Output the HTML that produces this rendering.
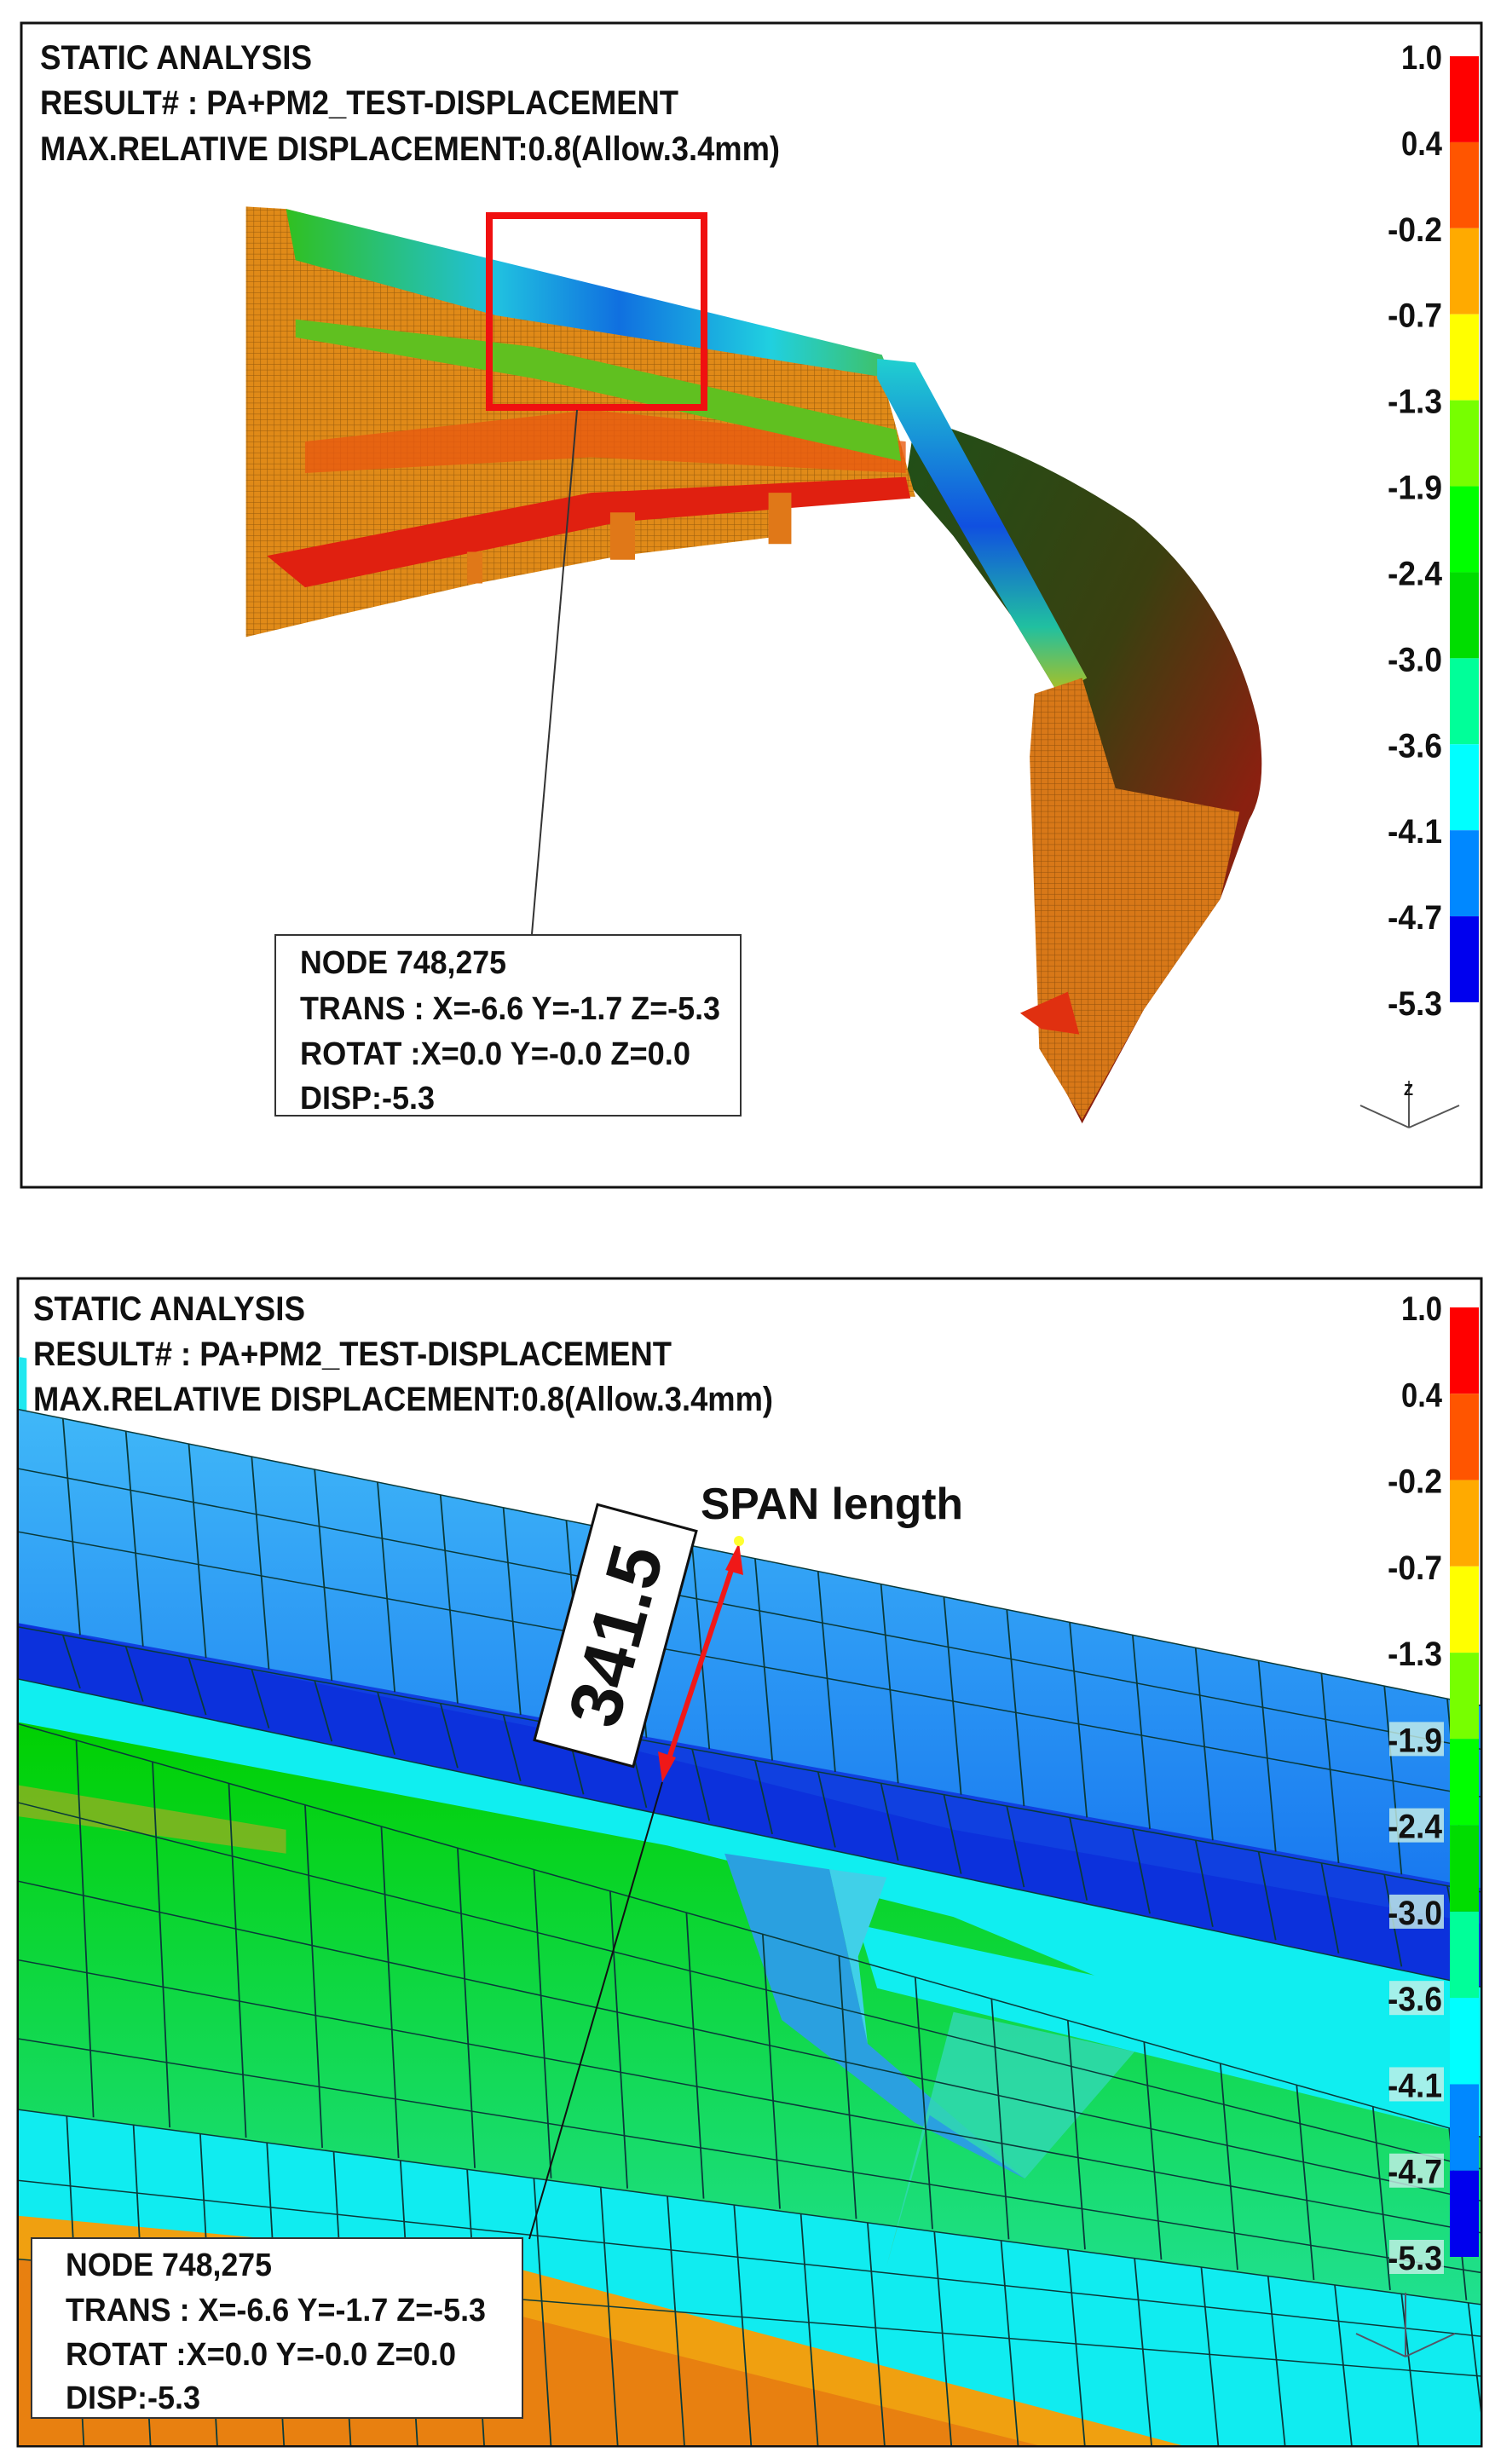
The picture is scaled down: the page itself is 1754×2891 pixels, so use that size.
<!DOCTYPE html>
<html><head><meta charset="utf-8"><style>
html,body{margin:0;padding:0;background:#fff;}
svg{display:block;}
text{font-family:"Liberation Sans",sans-serif;font-weight:bold;fill:#111;}
</style></head><body>
<svg id="root" width="1754" height="2891" viewBox="0 0 1754 2891" xmlns="http://www.w3.org/2000/svg">
<defs>
<pattern id="mesh" width="7" height="7" patternUnits="userSpaceOnUse"><path d="M0 0H7M0 0V7" stroke="#3a2000" stroke-width="1" opacity="0.45"/></pattern>
<linearGradient id="beamTop" x1="0" y1="0" x2="1" y2="0"><stop offset="0" stop-color="#30c020"/><stop offset="0.35" stop-color="#20c0e0"/><stop offset="0.55" stop-color="#1070e0"/><stop offset="0.8" stop-color="#20d0e0"/><stop offset="1" stop-color="#40c060"/></linearGradient>
<linearGradient id="armBlue" x1="0" y1="0" x2="0" y2="1"><stop offset="0" stop-color="#20d0d0"/><stop offset="0.5" stop-color="#1050e0"/><stop offset="0.8" stop-color="#20c0a0"/><stop offset="1" stop-color="#b0c020"/></linearGradient>
<linearGradient id="armDark" x1="0" y1="0" x2="1" y2="1"><stop offset="0" stop-color="#205018"/><stop offset="0.45" stop-color="#3a4010"/><stop offset="0.75" stop-color="#8a2010"/><stop offset="1" stop-color="#6a3010"/></linearGradient>
<linearGradient id="blueFace" x1="0" y1="0" x2="0" y2="1"><stop offset="0" stop-color="#40b8f8"/><stop offset="1" stop-color="#1878f0"/></linearGradient>
<linearGradient id="greenFace" x1="0" y1="0" x2="0" y2="1"><stop offset="0" stop-color="#00d000"/><stop offset="1" stop-color="#20e090"/></linearGradient>
<clipPath id="clipTop"><rect x="26" y="28" width="1711" height="1364"/></clipPath>
<clipPath id="clipBot"><rect x="22" y="1501" width="1715" height="1368"/></clipPath>
</defs>

<!-- TOP PANEL -->
<rect x="25" y="27" width="1713" height="1366" fill="#fff" stroke="#111" stroke-width="3"/>
<g clip-path="url(#clipTop)">
 <g transform="scale(1.1186,0.925)">
  <path d="M960,530 Q1080,570 1190,660 Q1290,760 1320,920 Q1330,1000 1310,1040 L1280,1140 L1200,1280 L1135,1425 L1090,1320 L1090,960 L1110,880 L1060,780 L1000,680 L950,610 Z" fill="url(#armDark)"/>
  <path d="M258,262 L258,808 L355,780 L500,740 L650,705 L820,680 L830,630 L960,630 L920,455 L300,265 Z" fill="#e08a18"/>
  <path d="M258,262 L258,808 L355,780 L500,740 L650,705 L820,680 L830,630 L960,630 L920,455 L300,265 Z" fill="url(#mesh)"/>
  <path d="M280,705 L620,625 L950,605 L955,632 L650,662 L320,745 Z" fill="#e02010"/>
  <path d="M320,560 L620,520 L950,560 L950,600 L620,580 L320,600 Z" fill="#e85a10" opacity="0.8"/>
  <path d="M300,265 L925,450 L935,480 L520,400 L310,330 Z" fill="url(#beamTop)"/>
  <path d="M310,405 L560,440 L940,545 L945,585 L560,480 L310,428 Z" fill="#60c020"/>
  <path d="M920,455 L960,460 L1140,860 L1110,880 L1060,780 L960,570 L920,480 Z" fill="url(#armBlue)"/>
  <path d="M1085,880 L1135,860 L1170,1000 L1300,1030 L1280,1140 L1200,1280 L1135,1420 L1090,1330 L1080,960 Z" fill="#d87818"/>
  <path d="M1085,880 L1135,860 L1170,1000 L1300,1030 L1280,1140 L1200,1280 L1135,1420 L1090,1330 L1080,960 Z" fill="url(#mesh)"/>
  <path d="M1070,1285 L1120,1258 L1132,1312 L1092,1305 Z" fill="#e03010"/>
  <rect x="806" y="625" width="24" height="65" fill="#e07818"/>
  <rect x="640" y="650" width="26" height="60" fill="#e07818"/>
  <rect x="490" y="700" width="16" height="40" fill="#e07818"/>
 </g>
</g>
<rect x="574" y="253" width="252" height="225" fill="none" stroke="#f01010" stroke-width="8"/>
<line x1="677" y1="481" x2="624" y2="1096" stroke="#333" stroke-width="2"/>
<g>
 <text x="47" y="81" font-size="40" textLength="319" lengthAdjust="spacingAndGlyphs">STATIC ANALYSIS</text>
 <text x="47" y="134" font-size="40" textLength="749" lengthAdjust="spacingAndGlyphs">RESULT# : PA+PM2_TEST-DISPLACEMENT</text>
 <text x="47" y="188" font-size="40" textLength="868" lengthAdjust="spacingAndGlyphs">MAX.RELATIVE DISPLACEMENT:0.8(Allow.3.4mm)</text>
</g>
<g>
 <rect x="323" y="1097" width="546" height="212" fill="#fff" stroke="#333" stroke-width="2"/>
 <text x="352" y="1142" font-size="38" textLength="242" lengthAdjust="spacingAndGlyphs">NODE 748,275</text>
 <text x="352" y="1196" font-size="38" textLength="493" lengthAdjust="spacingAndGlyphs">TRANS : X=-6.6 Y=-1.7 Z=-5.3</text>
 <text x="352" y="1249" font-size="38" textLength="458" lengthAdjust="spacingAndGlyphs">ROTAT :X=0.0 Y=-0.0 Z=0.0</text>
 <text x="352" y="1301" font-size="38" textLength="158" lengthAdjust="spacingAndGlyphs">DISP:-5.3</text>
</g>
<g id="legendTop"></g>
<g stroke="#555" stroke-width="2" fill="none">
 <path d="M1653,1323 V1268 M1653,1323 L1596,1297 M1653,1323 L1712,1297"/>
 <text x="1647" y="1285" font-size="18" font-weight="normal" fill="#555" stroke="none">Z</text>
</g>

<!-- BOTTOM PANEL -->
<rect x="21" y="1500" width="1717" height="1370" fill="#fff" stroke="#111" stroke-width="3"/>
<g clip-path="url(#clipBot)">
 <g transform="translate(0,1440) scale(1.1186,0.930)">
  <path d="M0,160 L28,165 L28,240 L0,240Z" fill="#20e8f0"/>
  <path d="M0,225 L1560,605 L1560,1540 L0,1540 Z" fill="#10eef0"/>
  <path d="M0,225 L1560,605 L1560,840 L0,500 Z" fill="url(#blueFace)"/>
  <path d="M0,495 L1560,835 L1560,960 L0,565 Z" fill="#1040e0"/>
  <path d="M0,495 L600,640 L1000,760 L1560,880 L1560,960 L0,565Z" fill="#0a28d8" opacity="0.6"/>
  <path d="M0,620 L700,780 L1000,870 L1560,1150 L1560,1360 L0,1110 Z" fill="url(#greenFace)"/>
  <path d="M0,700 L300,760 L300,790 L0,740Z" fill="#90b020" opacity="0.8"/>
  <path d="M900,880 L1560,1050 L1560,1150 L920,960Z" fill="#10eef0"/>
  <path d="M0,1110 L1560,1360 L1560,1540 L0,1540Z" fill="#10ecf0"/>
  <path d="M760,790 L870,810 L910,1030 L1075,1200 L960,1130 L820,1000 Z" fill="#2aa0e0"/>
  <path d="M870,810 L930,820 L900,920 L910,1030Z" fill="#40d0e8"/>
  <path d="M930,1310 L975,1120 L1075,1200 L1190,1040 L1000,990Z" fill="#30d8b0" opacity="0.85"/>
  <path d="M0,1245 L500,1300 L1250,1540 L0,1540Z" fill="#f0a010"/>
  <path d="M0,1300 L500,1360 L1100,1540 L0,1540Z" fill="#e88010"/>
  <g id="meshLines" stroke="#0a3a3a" stroke-width="1.6" fill="none"></g>
 </g>
</g>
<g>
 <text x="39" y="1549" font-size="40" textLength="319" lengthAdjust="spacingAndGlyphs">STATIC ANALYSIS</text>
 <text x="39" y="1602" font-size="40" textLength="749" lengthAdjust="spacingAndGlyphs">RESULT# : PA+PM2_TEST-DISPLACEMENT</text>
 <text x="39" y="1655" font-size="40" textLength="868" lengthAdjust="spacingAndGlyphs">MAX.RELATIVE DISPLACEMENT:0.8(Allow.3.4mm)</text>
</g>
<text x="822" y="1782" font-size="52" textLength="308" lengthAdjust="spacingAndGlyphs">SPAN length</text>
<g>
 <g transform="translate(722,1919) rotate(-75)">
  <rect x="-143" y="-60" width="286" height="120" fill="#fff" stroke="#111" stroke-width="3"/>
  <text x="0" y="30" font-size="86" font-weight="normal" text-anchor="middle">341.5</text>
 </g>
</g>
<g>
 <line x1="862" y1="1830" x2="782" y2="2072" stroke="#f01818" stroke-width="6"/>
 <path d="M867,1810 L851,1842 L872,1848 Z" fill="#f01818"/>
 <path d="M777,2091 L772,2055 L793,2062 Z" fill="#f01818"/>
 <circle cx="867" cy="1808" r="6" fill="#ffff30"/>
</g>
<line x1="777" y1="2091" x2="621" y2="2627" stroke="#111" stroke-width="2"/>
<g>
 <rect x="37" y="2626" width="576" height="211" fill="#fff" stroke="#333" stroke-width="2"/>
 <text x="77" y="2670" font-size="38" textLength="242" lengthAdjust="spacingAndGlyphs">NODE 748,275</text>
 <text x="77" y="2723" font-size="38" textLength="493" lengthAdjust="spacingAndGlyphs">TRANS : X=-6.6 Y=-1.7 Z=-5.3</text>
 <text x="77" y="2775" font-size="38" textLength="458" lengthAdjust="spacingAndGlyphs">ROTAT :X=0.0 Y=-0.0 Z=0.0</text>
 <text x="77" y="2826" font-size="38" textLength="158" lengthAdjust="spacingAndGlyphs">DISP:-5.3</text>
</g>
<g id="legendBot"></g>
<g stroke="#556" stroke-width="2" fill="none">
 <path d="M1649,2765 V2690 M1649,2765 L1591,2738 M1649,2765 L1707,2738"/>
</g>
</svg>
<script>
const legendLabels = ["1.0","0.4","-0.2","-0.7","-1.3","-1.9","-2.4","-3.0","-3.6","-4.1","-4.7","-5.3"];
const legendColors = ["#ff0000","#ff5500","#ffaa00","#ffff00","#77ff00","#00ff00","#00dd00","#00ff99","#00ffff","#0088ff","#0000ee"];
const NS = "http://www.w3.org/2000/svg";
function drawLegend(gid, top, bottom, highlight) {
  const g = document.getElementById(gid);
  const n = legendLabels.length - 1;
  const step = (bottom - top) / n;
  legendColors.forEach((c, i) => {
    const r = document.createElementNS(NS, "rect");
    r.setAttribute("x", 1701); r.setAttribute("y", top + i * step);
    r.setAttribute("width", 34); r.setAttribute("height", step);
    r.setAttribute("fill", c);
    
    
    g.appendChild(r);
  });
  legendLabels.forEach((l, i) => {
    const y = top + i * step;
    if (highlight && i >= 5) {
      const b = document.createElementNS(NS, "rect");
      b.setAttribute("x", 1630); b.setAttribute("y", y - 20);
      b.setAttribute("width", 64); b.setAttribute("height", 40);
      b.setAttribute("fill", "#c8f0e8"); b.setAttribute("opacity", "0.8");
      
      
      g.appendChild(b);
    }
    const t = document.createElementNS(NS, "text");
    t.setAttribute("x", 1692); t.setAttribute("y", y + 15);
    t.setAttribute("font-size", "40"); t.setAttribute("font-weight", "normal");
    t.setAttribute("text-anchor", "end"); t.setAttribute("fill", "#222");
    t.setAttribute("textLength", l.length * 16); t.setAttribute("lengthAdjust", "spacingAndGlyphs");
    t.textContent = l;
    
    
    g.appendChild(t);
  });
}
drawLegend("legendTop", 66, 1176, false);
drawLegend("legendBot", 1534, 2648, true);

const ml = document.getElementById("meshLines");
function band(y0a, y1a, y0b, y1b, xs) {
  for (let x = 0; x <= 1560; x += xs) {
    const f = x / 1560;
    const ya = y0a + (y1a - y0a) * f, yb = y0b + (y1b - y0b) * f;
    const p = document.createElementNS(NS, "line");
    p.setAttribute("x1", x); p.setAttribute("y1", ya);
    p.setAttribute("x2", x + 18); p.setAttribute("y2", yb);
    ml.appendChild(p);
  }
}
band(225, 605, 500, 840, 66);
band(500, 840, 565, 960, 66);
band(620, 1150, 1110, 1360, 80);
band(1110, 1360, 1540, 1540, 70);
function hline(y0, y1) {
  const p = document.createElementNS(NS, "line");
  p.setAttribute("x1", 0); p.setAttribute("y1", y0);
  p.setAttribute("x2", 1560); p.setAttribute("y2", y1);
  ml.appendChild(p);
}
[[225,605],[300,660],[380,720],[500,840],[565,960],[620,1150],[720,1190],[820,1230],[920,1270],[1020,1320],[1110,1360],[1200,1400],[1300,1450]].forEach(a => hline(a[0], a[1]));
</script>
</body></html>
